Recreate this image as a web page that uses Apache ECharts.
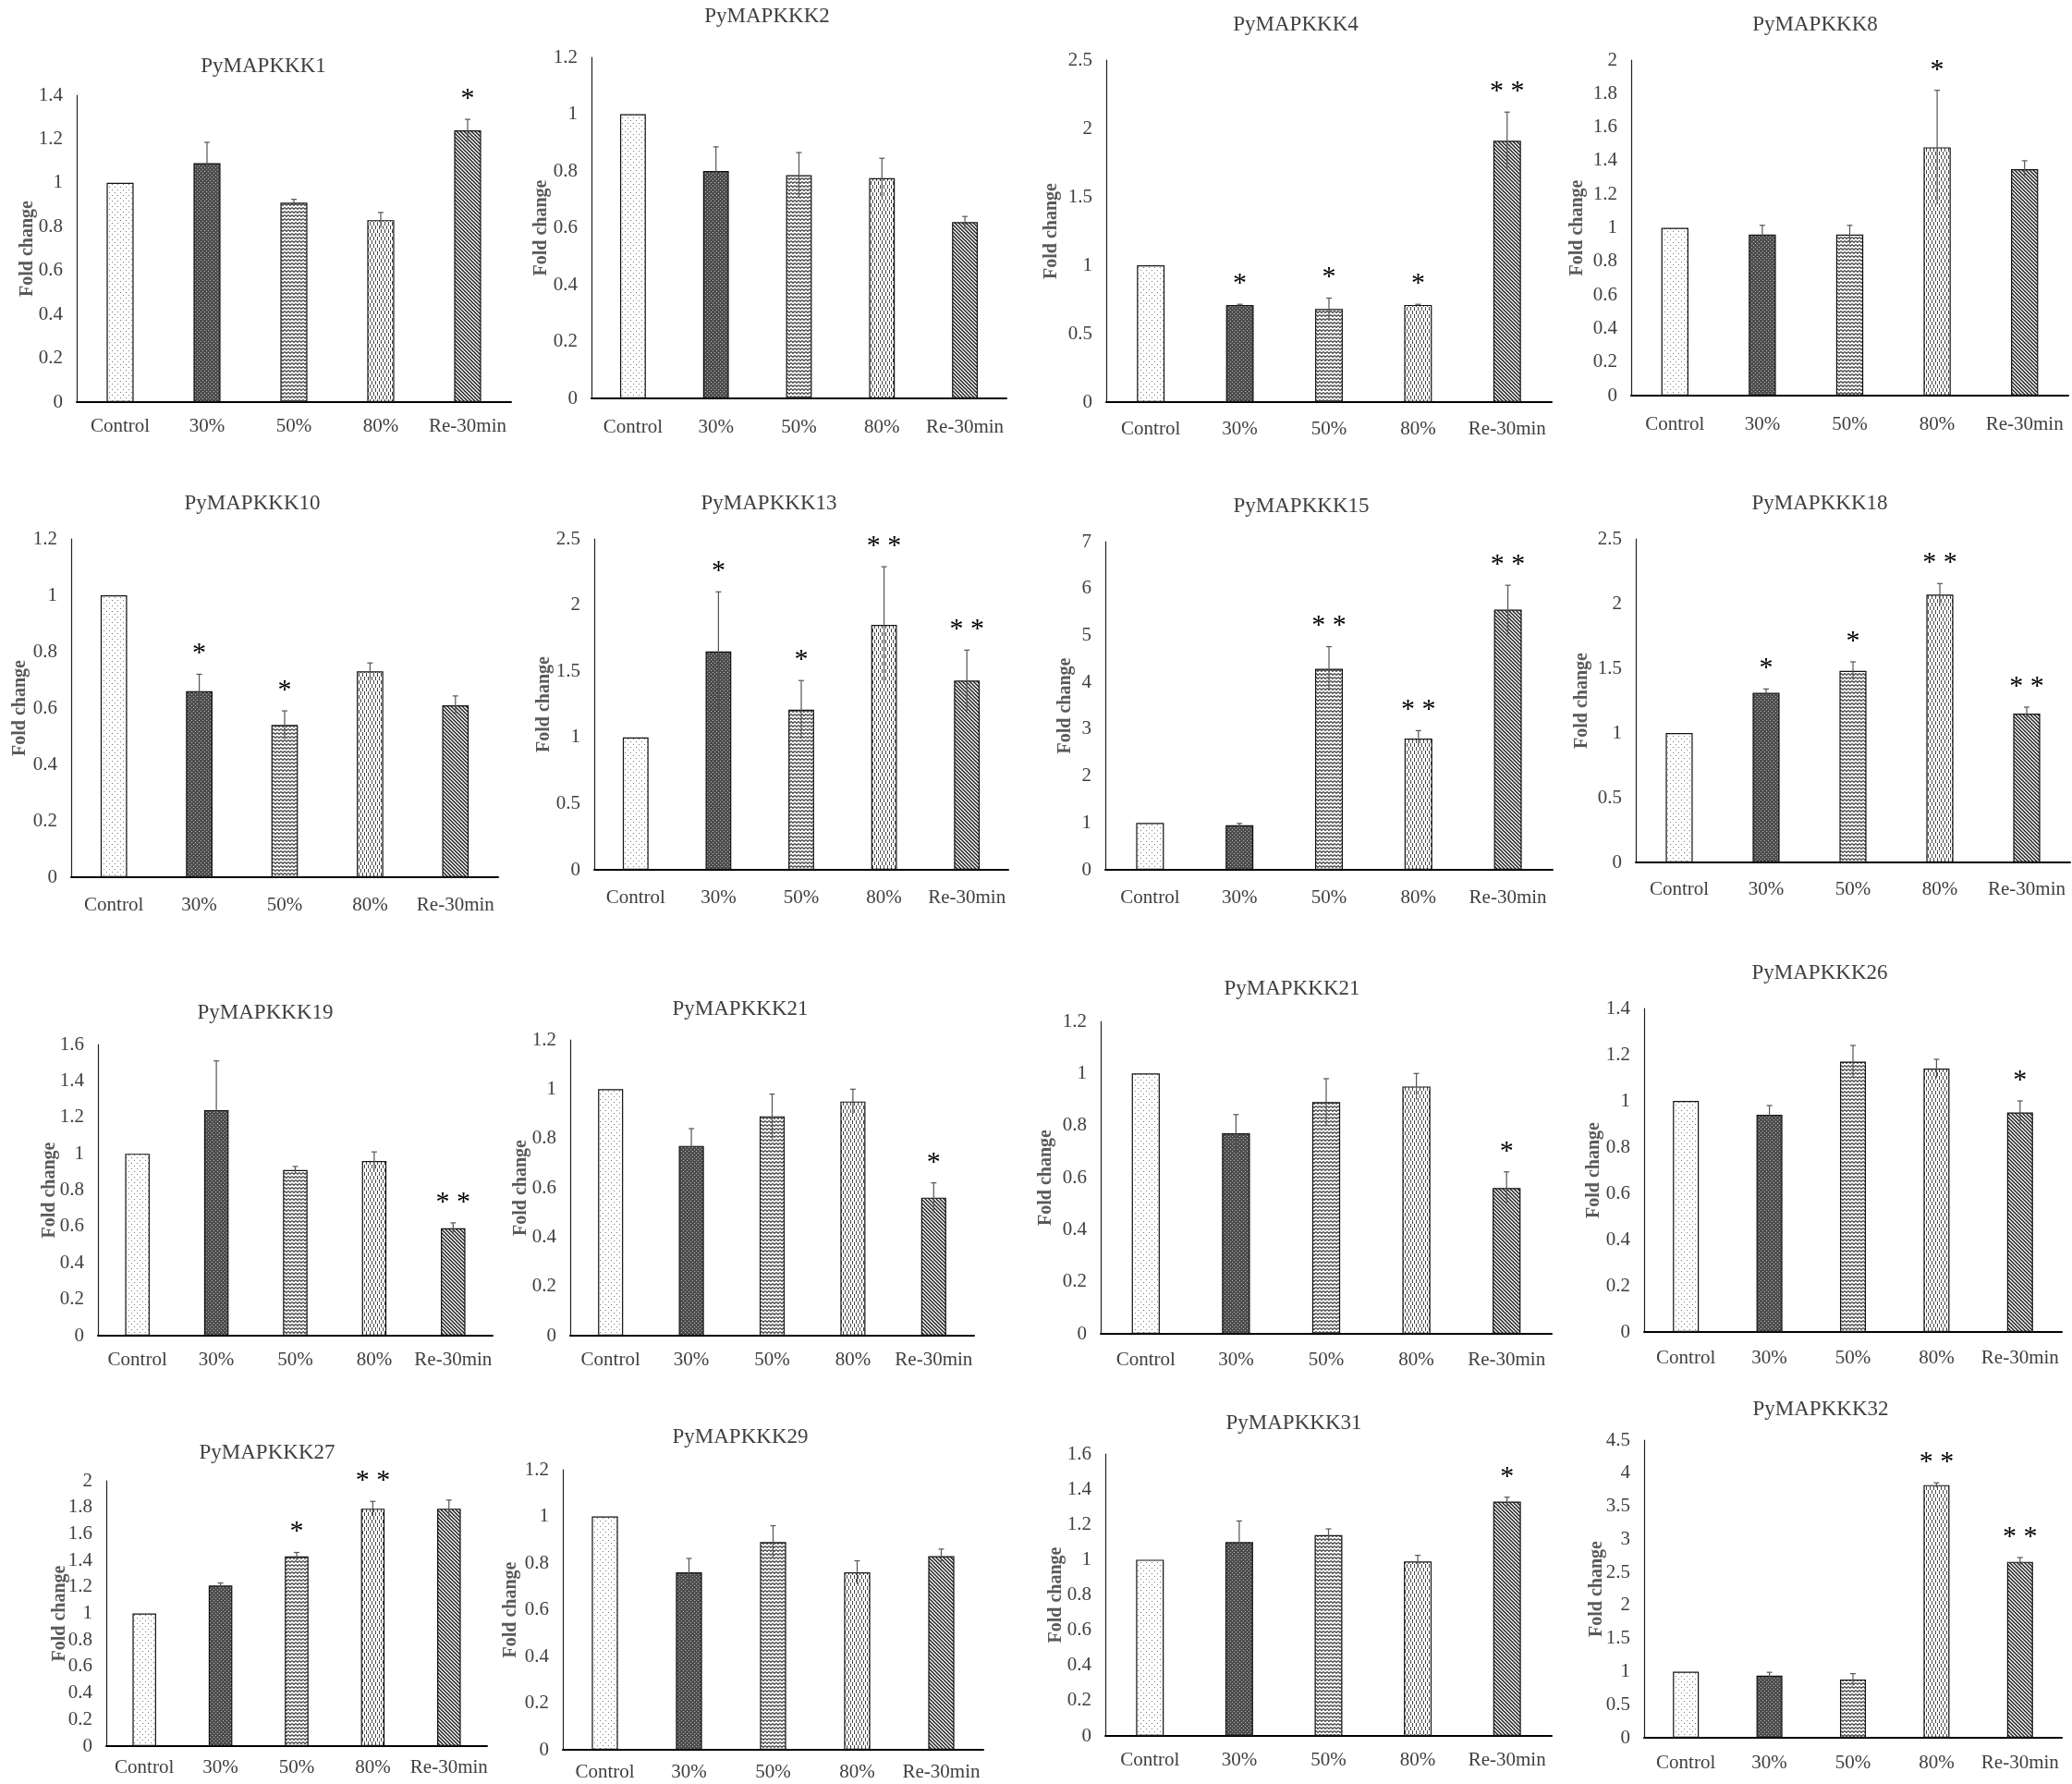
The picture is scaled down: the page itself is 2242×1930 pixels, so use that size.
<!DOCTYPE html>
<html lang="en">
<head>
<meta charset="UTF-8">
<title>PyMAPKKK fold change</title>
<script src="https://cdn.jsdelivr.net/npm/echarts@6/dist/echarts.min.js"></script>
<style>
  html, body { margin: 0; padding: 0; background: #fff; }
  #chart { width: 2242px; height: 1930px; }
</style>
</head>
<body>
<div id="chart"></div>
<script>
  const categories = ['Control', '30%', '50%', '80%', 'Re-30min'];

  const genes = [
    'PyMAPKKK1', 'PyMAPKKK2', 'PyMAPKKK4', 'PyMAPKKK8',
    'PyMAPKKK10', 'PyMAPKKK13', 'PyMAPKKK15', 'PyMAPKKK18',
    'PyMAPKKK19', 'PyMAPKKK21', 'PyMAPKKK21', 'PyMAPKKK26',
    'PyMAPKKK27', 'PyMAPKKK29', 'PyMAPKKK31', 'PyMAPKKK32'
  ];

  const yMax  = [1.4, 1.2, 2.5, 2, 1.2, 2.5, 7, 2.5, 1.6, 1.2, 1.2, 1.4, 2, 1.2, 1.6, 4.5];
  const yStep = [0.2, 0.2, 0.5, 0.2, 0.2, 0.5, 1, 0.5, 0.2, 0.2, 0.2, 0.2, 0.2, 0.2, 0.2, 0.5];

  const means = [
    [1.00, 1.09, 0.91, 0.83, 1.24],
    [1.00, 0.80, 0.785, 0.775, 0.62],
    [1.00, 0.71, 0.68, 0.71, 1.91],
    [1.00, 0.96, 0.96, 1.48, 1.35],
    [1.00, 0.66, 0.54, 0.73, 0.61],
    [1.00, 1.65, 1.21, 1.85, 1.43],
    [1.00, 0.95, 4.29, 2.80, 5.55],
    [1.00, 1.31, 1.48, 2.07, 1.15],
    [1.00, 1.24, 0.91, 0.96, 0.59],
    [1.00, 0.77, 0.89, 0.95, 0.56],
    [1.00, 0.77, 0.89, 0.95, 0.56],
    [1.00, 0.94, 1.17, 1.14, 0.95],
    [1.00, 1.21, 1.43, 1.79, 1.79],
    [1.00, 0.76, 0.89, 0.76, 0.83],
    [1.00, 1.10, 1.14, 0.99, 1.33],
    [1.00, 0.94, 0.88, 3.82, 2.66]
  ];

  const errors = [
    [0, 0.095, 0.015, 0.035, 0.05],
    [0, 0.085, 0.08, 0.07, 0.02],
    [0, 0.005, 0.08, 0.005, 0.21],
    [0, 0.055, 0.055, 0.34, 0.05],
    [0, 0.06, 0.05, 0.03, 0.033],
    [0, 0.45, 0.22, 0.44, 0.23],
    [0, 0.04, 0.47, 0.17, 0.52],
    [0, 0.03, 0.07, 0.085, 0.05],
    [0, 0.27, 0.02, 0.05, 0.03],
    [0, 0.07, 0.09, 0.05, 0.06],
    [0, 0.072, 0.09, 0.05, 0.062],
    [0, 0.04, 0.07, 0.04, 0.05],
    [0, 0.02, 0.03, 0.055, 0.065],
    [0, 0.06, 0.07, 0.05, 0.03],
    [0, 0.12, 0.035, 0.035, 0.025],
    [0, 0.05, 0.09, 0.035, 0.065]
  ];

  const stars = [
    ['', '', '', '', '*'],
    ['', '', '', '', ''],
    ['', '*', '*', '*', '**'],
    ['', '', '', '*', ''],
    ['', '*', '*', '', ''],
    ['', '*', '*', '**', '**'],
    ['', '', '**', '**', '**'],
    ['', '*', '*', '**', '**'],
    ['', '', '', '', '**'],
    ['', '', '', '', '*'],
    ['', '', '', '', '*'],
    ['', '', '', '', '*'],
    ['', '', '*', '**', ''],
    ['', '', '', '', ''],
    ['', '', '', '', '*'],
    ['', '', '', '**', '**']
  ];

  // panel boxes: axis left, axis right, axis top, zero line, title x, title y, y-name x, x-label y
  const boxes = [
    [83, 553, 103, 435, 285, 72, 30, 462],
    [640, 1089, 62, 431, 830, 18, 586, 463],
    [1197, 1679, 65, 435, 1402, 27, 1138, 465],
    [1765, 2238, 65, 428, 1964, 27, 1707, 460],
    [77, 539, 583, 949, 273, 545, 22, 980],
    [643, 1091, 583, 941, 832, 545, 589, 972],
    [1196, 1680, 586, 941, 1408, 548, 1153, 972],
    [1770, 2240, 583, 933, 1969, 545, 1712, 963],
    [106, 533, 1130, 1445, 287, 1096, 54, 1472],
    [617, 1054, 1125, 1445, 801, 1092, 564, 1472],
    [1191, 1679, 1105, 1443, 1398, 1070, 1132, 1472],
    [1779, 2231, 1091, 1441, 1969, 1053, 1725, 1470],
    [115, 527, 1602, 1889, 289, 1572, 65, 1913],
    [609, 1064, 1590, 1893, 801, 1555, 553, 1918],
    [1196, 1679, 1573, 1878, 1400, 1540, 1143, 1905],
    [1779, 2231, 1558, 1880, 1970, 1525, 1728, 1908]
  ];

  const serif = '"Liberation Serif", "Times New Roman", serif';

  function makePattern(w, h, draw) {
    const c = document.createElement('canvas');
    c.width = w;
    c.height = h;
    const ctx = c.getContext('2d');
    ctx.fillStyle = '#fff';
    ctx.fillRect(0, 0, w, h);
    draw(ctx);
    return { image: c, repeat: 'repeat' };
  }

  // one hatch per treatment, like the Excel pattern fills
  const fills = [
    makePattern(6, 6, ctx => {
      ctx.fillStyle = '#777';
      ctx.fillRect(1, 1, 1, 1);
      ctx.fillRect(4, 4, 1, 1);
    }),
    makePattern(4, 4, ctx => {
      ctx.fillStyle = '#4d4d4d';
      ctx.fillRect(0, 0, 4, 4);
      ctx.fillStyle = '#b5b5b5';
      ctx.fillRect(1, 1, 1, 1);
      ctx.fillRect(3, 3, 1, 1);
    }),
    makePattern(4, 4, ctx => {
      ctx.strokeStyle = '#3a3a3a';
      ctx.lineWidth = 1.1;
      ctx.beginPath();
      ctx.moveTo(0, 0.5);
      ctx.lineTo(2, 2.5);
      ctx.lineTo(4, 0.5);
      ctx.stroke();
    }),
    makePattern(4, 8, ctx => {
      ctx.fillStyle = '#444';
      ctx.fillRect(0, 0, 1, 4);
      ctx.fillRect(2, 4, 1, 4);
    }),
    makePattern(4, 4, ctx => {
      ctx.strokeStyle = '#222';
      ctx.lineWidth = 1.5;
      ctx.beginPath();
      ctx.moveTo(-1, -1); ctx.lineTo(5, 5);
      ctx.moveTo(-1, 3); ctx.lineTo(1, 5);
      ctx.moveTo(3, -1); ctx.lineTo(5, 1);
      ctx.stroke();
    })
  ];

  function errorBars(p) {
    return function (params, api) {
      const i = api.value(0), m = api.value(1), e = api.value(2);
      const top = api.coord([i, m + e]);
      const low = api.coord([i, m - e]);
      const children = [];
      if (e > 0) {
        children.push({
          type: 'line',
          shape: { x1: top[0], y1: top[1], x2: low[0], y2: low[1] },
          style: { stroke: '#555', lineWidth: 1.2 }
        });
        children.push({
          type: 'line',
          shape: { x1: top[0] - 3, y1: top[1], x2: top[0] + 3, y2: top[1] },
          style: { stroke: '#555', lineWidth: 1.2 }
        });
      }
      const s = stars[p][params.dataIndex];
      if (s) {
        children.push({
          type: 'text',
          x: top[0],
          y: top[1] - 22,
          style: {
            text: s === '**' ? '* *' : '*',
            font: '30px ' + serif,
            fill: '#000',
            align: 'center', verticalAlign: 'middle',
            textAlign: 'center', textVerticalAlign: 'middle'
          }
        });
      }
      return { type: 'group', children: children };
    };
  }

  const option = { animation: false, grid: [], xAxis: [], yAxis: [], series: [], graphic: [] };

  genes.forEach(function (gene, p) {
    const [l, r, t, b, tx, ty, nx, ly] = boxes[p];

    option.grid.push({ left: l, top: t, width: r - l, height: b - t });

    option.xAxis.push({
      type: 'category',
      gridIndex: p,
      data: categories,
      axisLine: { lineStyle: { color: '#000', width: 2 } },
      axisTick: { show: false },
      axisLabel: { interval: 0, margin: ly - b - 11, color: '#404040', fontSize: 21, fontFamily: serif }
    });

    option.yAxis.push({
      type: 'value',
      gridIndex: p,
      min: 0,
      max: yMax[p],
      interval: yStep[p],
      axisLine: { show: true, lineStyle: { color: '#222', width: 1.2 } },
      axisTick: { show: false },
      splitLine: { show: false },
      axisLabel: {
        margin: 15, color: '#404040', fontSize: 21, fontFamily: serif,
        formatter: v => String(+v.toFixed(2))
      }
    });

    option.series.push({
      type: 'bar',
      xAxisIndex: p,
      yAxisIndex: p,
      barWidth: '31%',
      silent: true,
      itemStyle: { borderColor: '#111', borderWidth: 1.2 },
      data: means[p].map((v, i) => ({ value: v, itemStyle: { color: fills[i] } }))
    });

    option.series.push({
      type: 'custom',
      xAxisIndex: p,
      yAxisIndex: p,
      silent: true,
      z: 5,
      renderItem: errorBars(p),
      encode: { x: 0, y: 1 },
      data: means[p].map((v, i) => [i, v, errors[p][i]])
    });

    option.graphic.push({
      type: 'text', x: tx, y: ty,
      style: {
        text: gene, font: '23px ' + serif, fill: '#404040',
        align: 'center', verticalAlign: 'middle',
        textAlign: 'center', textVerticalAlign: 'middle'
      }
    });

    option.graphic.push({
      type: 'text', x: nx, y: (t + b) / 2, rotation: Math.PI / 2,
      style: {
        text: 'Fold change', font: 'bold 20px ' + serif, fill: '#595959',
        align: 'center', verticalAlign: 'middle',
        textAlign: 'center', textVerticalAlign: 'middle'
      }
    });
  });

  const chart = echarts.init(document.getElementById('chart'));
  chart.setOption(option);
</script>
</body>
</html>
